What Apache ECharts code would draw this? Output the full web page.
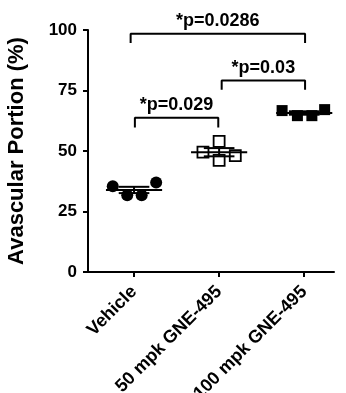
<!DOCTYPE html>
<html>
<head>
<meta charset="utf-8">
<script src="https://cdn.jsdelivr.net/npm/echarts@6/dist/echarts.min.js"></script>
<style>
  html, body { margin: 0; padding: 0; background: #fff; }
  #chart { width: 346px; height: 393px; }
</style>
</head>
<body>
<div id="chart"></div>
<script>
// groups on the x axis (positions 1, 2, 3)
const categories = ['Vehicle', '50 mpk GNE-495', '100 mpk GNE-495'];
const yTicks = [0, 25, 50, 75, 100];

// individual animals
const vehicle = [35.4, 31.7, 31.7, 37.0];
const mpk50 = [49.5, 54.0, 46.1, 48.1];
const mpk100 = [66.7, 64.6, 64.6, 67.1];
// horizontal scatter of the dots around each group
const jitterVehicle = [-0.25, -0.08, 0.09, 0.26];
const jitter50 = [-0.19, 0, 0, 0.19];
const jitter100 = [-0.26, -0.08, 0.09, 0.24];

// mean and SEM per group
const means = [33.9, 49.5, 65.7];
const sems = [1.3, 1.7, 0.7];

// significance brackets: [x from, x to, y top, y leg end]
const brackets = [
  [0.96, 3.01, 98.4, 94.6],
  [2.03, 3.01, 79.1, 75.3],
  [1.01, 1.99, 63.7, 59.7]
];
const pLabels = ['*p=0.0286', '*p=0.03', '*p=0.029'];

const FONT = 'Liberation Sans, Arial, sans-serif';

const pts = (vals, jit, g) => vals.map((v, i) => [g + jit[i], v]);

const chart = echarts.init(document.getElementById('chart'));

const bracketSeries = brackets.map(b => ({
  type: 'line',
  data: [[b[0], b[3]], [b[0], b[2]], [b[1], b[2]], [b[1], b[3]]],
  symbol: 'none',
  lineStyle: { color: '#000', width: 2 },
  clip: false,
  silent: true,
  z: 5
}));

chart.setOption({
  animation: false,
  grid: {
    left: 88, right: 12, top: 30, bottom: 121,
    containLabel: false, outerBoundsMode: 'none'
  },
  xAxis: {
    type: 'value',
    min: 0.459,
    max: 3.35,
    splitLine: { show: false },
    axisLine: { lineStyle: { color: '#000', width: 2 } },
    axisTick: {
      show: true, customValues: [1, 2, 3], length: 5, inside: false,
      lineStyle: { color: '#000', width: 2 }
    },
    axisLabel: {
      customValues: [1, 2, 3],
      rotate: 45,
      margin: 17,
      color: '#000',
      fontFamily: FONT,
      fontWeight: 'bold',
      fontSize: 18,
      formatter: v => categories[Math.round(v) - 1]
    }
  },
  yAxis: {
    type: 'value',
    min: 0,
    max: 100,
    interval: 25,
    name: 'Avascular Portion (%)',
    nameLocation: 'middle',
    nameGap: 60,
    nameTextStyle: { color: '#000', fontFamily: FONT, fontWeight: 'bold', fontSize: 22 },
    splitLine: { show: false },
    axisLine: { show: true, lineStyle: { color: '#000', width: 2 } },
    axisTick: { show: true, length: 5, lineStyle: { color: '#000', width: 2 } },
    axisLabel: {
      margin: 11,
      color: '#000',
      fontFamily: FONT,
      fontWeight: 'bold',
      fontSize: 17,
      formatter: v => (yTicks.includes(v) ? String(v) : '')
    }
  },
  series: [
    {
      type: 'scatter',
      data: pts(vehicle, jitterVehicle, 1),
      symbol: 'circle',
      symbolSize: 12,
      itemStyle: { color: '#000', opacity: 1 },
      z: 2
    },
    {
      type: 'scatter',
      data: pts(mpk50, jitter50, 2),
      symbol: 'rect',
      symbolSize: 11,
      itemStyle: { color: 'rgba(255,255,255,0)', borderColor: '#000', borderWidth: 1.8, opacity: 1 },
      z: 2
    },
    {
      type: 'scatter',
      data: pts(mpk100, jitter100, 3),
      symbol: 'rect',
      symbolSize: 11,
      itemStyle: { color: '#000', opacity: 1 },
      z: 2
    },
    {
      // mean line with SEM error bar
      type: 'custom',
      data: means.map((m, i) => [i + 1, m, sems[i]]),
      z: 4,
      silent: true,
      renderItem: (params, api) => {
        const g = api.value(0), m = api.value(1), s = api.value(2);
        const style = { stroke: '#000', lineWidth: 2 };
        const seg = (x1, y1, x2, y2) => {
          const a = api.coord([x1, y1]), b = api.coord([x2, y2]);
          return { type: 'line', shape: { x1: a[0], y1: a[1], x2: b[0], y2: b[1] }, style };
        };
        return {
          type: 'group',
          children: [
            seg(g - 0.33, m, g + 0.33, m),
            seg(g, m - s, g, m + s),
            seg(g - 0.18, m + s, g + 0.18, m + s),
            seg(g - 0.18, m - s, g + 0.18, m - s)
          ]
        };
      }
    },
    ...bracketSeries,
    {
      // p-value labels above the brackets
      type: 'scatter',
      data: brackets.map((b, i) => ({ value: [(b[0] + b[1]) / 2, b[2]], name: pLabels[i] })),
      symbolSize: 0,
      clip: false,
      silent: true,
      itemStyle: { opacity: 1 },
      label: {
        show: true,
        position: 'top',
        distance: 4,
        formatter: p => p.name,
        color: '#000',
        fontFamily: FONT,
        fontWeight: 'bold',
        fontSize: 18
      },
      z: 6
    }
  ]
});
</script>
</body>
</html>
